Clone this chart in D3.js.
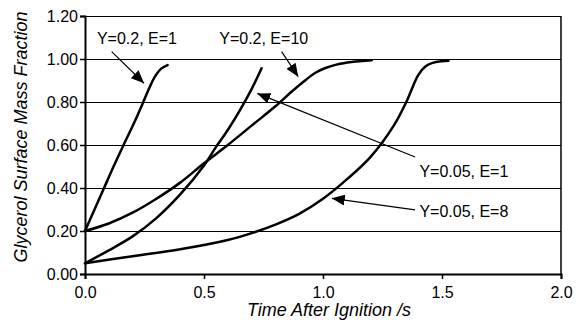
<!DOCTYPE html>
<html>
<head>
<meta charset="utf-8">
<script src="https://cdn.jsdelivr.net/npm/d3@7"></script>
<style>
  body { margin: 0; background: #fff; }
  svg { display: block; font-family: "Liberation Sans", Arial, sans-serif; }
</style>
</head>
<body>
<svg width="586" height="320"></svg>
<script>
// time after ignition (s) and surface mass fraction
var tY02E1 = [0, 0.04, 0.08, 0.12, 0.162, 0.205, 0.245, 0.272, 0.295, 0.32, 0.347];
var vY02E1 = [0.2, 0.3, 0.4, 0.5, 0.6, 0.7, 0.8, 0.87, 0.92, 0.955, 0.972];

var tY005E1 = [0, 0.1, 0.2, 0.3, 0.4, 0.5, 0.55, 0.6, 0.65, 0.7, 0.742];
var vY005E1 = [0.05, 0.11, 0.175, 0.26, 0.37, 0.505, 0.59, 0.67, 0.76, 0.86, 0.957];

var tY02E10 = [0, 0.1, 0.2, 0.3, 0.4, 0.5, 0.6, 0.7, 0.8, 0.87, 0.93, 0.97, 1.01, 1.06, 1.12, 1.205];
var vY02E10 = [0.2, 0.235, 0.285, 0.35, 0.425, 0.515, 0.6, 0.69, 0.78, 0.85, 0.905, 0.937, 0.958, 0.975, 0.986, 0.994];

var tY005E8 = [0, 0.2, 0.4, 0.6, 0.7, 0.8, 0.9, 1.0, 1.1, 1.2, 1.3, 1.35, 1.4, 1.43, 1.46, 1.5, 1.527];
var vY005E8 = [0.05, 0.083, 0.115, 0.158, 0.19, 0.23, 0.28, 0.35, 0.44, 0.545, 0.695, 0.8, 0.925, 0.965, 0.982, 0.99, 0.992];

var xTicks = [0, 0.5, 1.0, 1.5, 2.0];
var yTicks = [0, 0.2, 0.4, 0.6, 0.8, 1.0, 1.2];

// label text, where it starts (t, v) and the arrow from -> to
var labels = ["Y=0.2, E=1", "Y=0.2, E=10", "Y=0.05, E=1", "Y=0.05, E=8"];
var labelAt = [[0.05, 1.07], [0.564, 1.07], [1.405, 0.4526], [1.405, 0.2665]];
var arrowFrom = [[0.112, 1.034], [0.826, 1.034], [1.387, 0.544], [1.387, 0.298]];
var arrowTo = [[0.248, 0.887], [0.896, 0.918], [0.724, 0.840], [1.037, 0.352]];

function drawChart() {
    var svg = d3.select("svg");
    var x = d3.scaleLinear().domain([0, 2]).range([85, 561]);
    var y = d3.scaleLinear().domain([0, 1.2]).range([274, 16]);

    svg.append("rect").attr("width", 586).attr("height", 320).attr("fill", "#fff");

    // grid lines
    svg.append("g")
        .selectAll("line")
        .data(yTicks.slice(1))
        .enter()
        .append("line")
        .attr("x1", x(0)).attr("x2", x(2))
        .attr("y1", d => Math.round(y(d)) + 0.5)
        .attr("y2", d => Math.round(y(d)) + 0.5)
        .attr("stroke", "#000")
        .attr("stroke-width", 1);

    // right border
    svg.append("line")
        .attr("x1", x(2)).attr("x2", x(2))
        .attr("y1", y(1.2)).attr("y2", y(0))
        .attr("stroke", "#000").attr("stroke-width", 1.5);

    var yAxis = d3.axisLeft(y).tickValues(yTicks).tickFormat(d3.format(".2f"))
        .tickSize(5).tickPadding(2);
    var gy = svg.append("g").attr("transform", "translate(" + x(0) + ",0)").call(yAxis);

    var xAxis = d3.axisBottom(x).tickValues(xTicks).tickFormat(d3.format(".1f"))
        .tickSize(5).tickPadding(8);
    var gx = svg.append("g").attr("transform", "translate(0," + y(0) + ")").call(xAxis);

    [gx, gy].forEach(function(g) {
        g.select(".domain").attr("stroke", "#000").attr("stroke-width", 2);
        g.selectAll(".tick line").attr("stroke", "#000").attr("stroke-width", 1.5);
        g.selectAll(".tick text").attr("fill", "#000").attr("font-size", 16)
            .attr("font-family", "Liberation Sans, Arial, sans-serif");
    });

    // curves
    var series = [[tY02E1, vY02E1], [tY005E1, vY005E1], [tY02E10, vY02E10], [tY005E8, vY005E8]];
    var line = d3.line()
        .x(d => x(d[0]))
        .y(d => y(d[1]))
        .curve(d3.curveCatmullRom.alpha(0.5));

    svg.append("g")
        .selectAll("path")
        .data(series.map(s => d3.zip(s[0], s[1])))
        .enter()
        .append("path")
        .attr("d", line)
        .attr("fill", "none")
        .attr("stroke", "#000")
        .attr("stroke-width", 2.5)
        .attr("stroke-linejoin", "round")
        .attr("stroke-linecap", "round");

    // arrows
    svg.append("defs").append("marker")
        .attr("id", "head")
        .attr("viewBox", "0 0 13 11")
        .attr("refX", 13).attr("refY", 5.5)
        .attr("markerWidth", 13).attr("markerHeight", 11)
        .attr("markerUnits", "userSpaceOnUse")
        .attr("orient", "auto")
        .append("path")
        .attr("d", "M0,0 L13,5.5 L0,11 Z")
        .attr("fill", "#000");

    svg.append("g")
        .selectAll("line")
        .data(d3.range(labels.length))
        .enter()
        .append("line")
        .attr("x1", i => x(arrowFrom[i][0])).attr("y1", i => y(arrowFrom[i][1]))
        .attr("x2", i => x(arrowTo[i][0])).attr("y2", i => y(arrowTo[i][1]))
        .attr("stroke", "#000")
        .attr("stroke-width", 1.2)
        .attr("marker-end", "url(#head)");

    svg.append("g")
        .selectAll("text")
        .data(labels)
        .enter()
        .append("text")
        .attr("x", (d, i) => x(labelAt[i][0]))
        .attr("y", (d, i) => y(labelAt[i][1]))
        .attr("font-size", 16)
        .attr("fill", "#000")
        .text(d => d);

    // axis titles
    svg.append("text")
        .attr("transform", "translate(27,137) rotate(-90)")
        .attr("text-anchor", "middle")
        .attr("font-size", 18)
        .attr("font-style", "italic")
        .text("Glycerol Surface Mass Fraction");

    svg.append("text")
        .attr("x", 329).attr("y", 316)
        .attr("text-anchor", "middle")
        .attr("font-size", 18)
        .attr("font-style", "italic")
        .text("Time After Ignition /s");
}

drawChart();
</script>
</body>
</html>
